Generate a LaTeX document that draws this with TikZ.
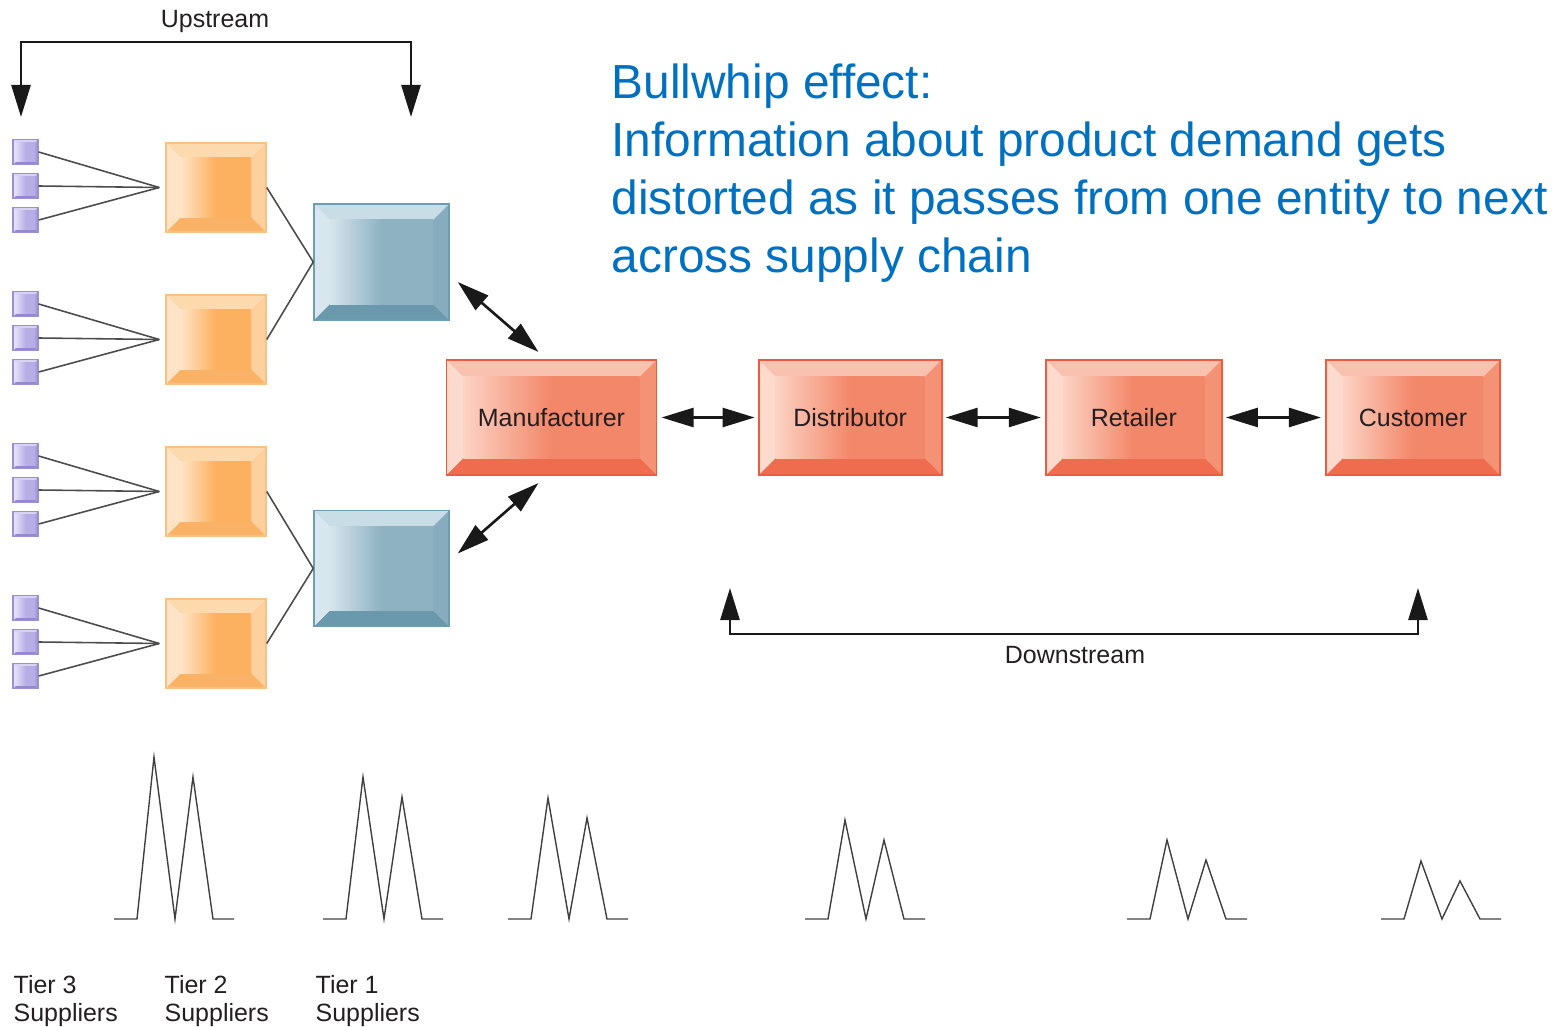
\documentclass[tikz,border=0pt]{standalone}
\usepackage{fontspec}
\setmainfont{Liberation Sans}
\usetikzlibrary{arrows.meta, calc, positioning}

% bevel palettes: T top, R right, B bottom, L left, I/J inner gradient, D border
\definecolor{orD}{HTML}{F9C283}
\definecolor{orT}{HTML}{FDD9AE}
\definecolor{orR}{HTML}{FDD09E}
\definecolor{orB}{HTML}{FAB366}
\definecolor{orL}{HTML}{FEE4C6}
\definecolor{orI}{HTML}{FEE3C4}
\definecolor{orJ}{HTML}{FBB15F}
\definecolor{blD}{HTML}{6E9CB0}
\definecolor{blT}{HTML}{C9DDE6}
\definecolor{blR}{HTML}{86ACBE}
\definecolor{blB}{HTML}{6A99AD}
\definecolor{blL}{HTML}{D8E7EE}
\definecolor{blI}{HTML}{D6E5EC}
\definecolor{blJ}{HTML}{8FB2C3}
\definecolor{rdD}{HTML}{F05B3D}
\definecolor{rdT}{HTML}{F9C1AF}
\definecolor{rdR}{HTML}{F49275}
\definecolor{rdB}{HTML}{EF6C4F}
\definecolor{rdL}{HTML}{FCDACE}
\definecolor{rdI}{HTML}{FCD3C5}
\definecolor{rdJ}{HTML}{F38769}
\definecolor{puD}{HTML}{9D8ED6}
\definecolor{puT}{HTML}{D8D2F5}
\definecolor{puR}{HTML}{A99ED9}
\definecolor{puB}{HTML}{9488CF}
\definecolor{puL}{HTML}{E4E0F9}
\definecolor{puI}{HTML}{E0DCF7}
\definecolor{puJ}{HTML}{B8AEE6}
\definecolor{noteblue}{HTML}{0070C0}
\definecolor{ink}{HTML}{231F20}

\tikzset{
  bevel/.style 2 args={path picture={
      \coordinate (pnw) at (path picture bounding box.north west);
      \coordinate (pne) at (path picture bounding box.north east);
      \coordinate (psw) at (path picture bounding box.south west);
      \coordinate (pse) at (path picture bounding box.south east);
      \fill[#1T] (pnw) -- (pne) -- ([shift={(-#2,-#2)}]pne) -- ([shift={(#2,-#2)}]pnw) -- cycle;
      \fill[#1R] (pne) -- (pse) -- ([shift={(-#2,#2)}]pse) -- ([shift={(-#2,-#2)}]pne) -- cycle;
      \fill[#1B] (pse) -- (psw) -- ([shift={(#2,#2)}]psw) -- ([shift={(-#2,#2)}]pse) -- cycle;
      \fill[#1L] (psw) -- (pnw) -- ([shift={(#2,-#2)}]pnw) -- ([shift={(#2,#2)}]psw) -- cycle;
      \shade[left color=#1I, right color=#1J, middle color=#1J]
        ([shift={(#2,-#2)}]pnw) rectangle ([shift={(-#2,#2)}]pse);
  }},
  lbl/.style={font=\fontsize{7.1}{8}\selectfont, text=ink},
  tierthree/.style={draw=puD, line width=0.4pt, minimum size=0.25cm, inner sep=0pt, bevel={pu}{0.03cm}},
  tiertwo/.style={draw=orD, line width=0.4pt, minimum width=1cm, minimum height=0.89cm, inner sep=0pt, bevel={or}{0.15cm}},
  tierone/.style={draw=blD, line width=0.4pt, minimum width=1.35cm, minimum height=1.16cm, inner sep=0pt, bevel={bl}{0.16cm}},
  chain/.style={lbl, draw=rdD, line width=0.5pt, minimum height=1.15cm, inner sep=0pt, outer sep=0pt, bevel={rd}{0.17cm}},
  link/.style={draw=black!70, line width=0.45pt},
  twoway/.style={{Triangle[length=0.32cm,width=0.19cm]}-{Triangle[length=0.32cm,width=0.19cm]}, draw=black!90, line width=0.75pt},
  peak/.style={draw=black!75, line width=0.4pt}
}

\begin{document}
\begin{tikzpicture}[x=0.01cm, y=-0.01cm]
  \useasboundingbox (0,0) rectangle (1565,1027);

  % suppliers
  \foreach \g in {1,...,4}{
    \node[tiertwo] (o\g) at (216,{35.5+152*\g}) {};
    \foreach \k in {1,2,3}
      \node[tierthree] (t\g\k) at (25.5,{152*\g+34*\k-34}) {};
  }
  \node[tierone] (b1) at (381.5,262) {};
  \node[tierone] (b2) at (381.5,568.5) {};

  \foreach \g in {1,...,4}
    \foreach \k in {1,2,3}
      \draw[link] (t\g\k.east) -- ([xshift=-0.06cm]o\g.west);
  \foreach \g/\b in {1/1,2/1,3/2,4/2}
    \draw[link] (o\g.east) -- (b\b.west);

  % chain
  \node[chain, minimum width=2.1cm] (mfr) at (551.5,417.5) {Manufacturer};
  \node[chain, minimum width=1.83cm, right=1.02cm of mfr] (dist) {Distributor};
  \node[chain, minimum width=1.76cm, right=1.04cm of dist] (ret) {Retailer};
  \node[chain, minimum width=1.74cm, right=1.04cm of ret] (cust) {Customer};

  \draw[twoway, shorten <=0.05cm, shorten >=0.04cm] (mfr) -- (dist);
  \draw[twoway, shorten <=0.04cm, shorten >=0.05cm] (dist) -- (ret);
  \draw[twoway, shorten <=0.04cm, shorten >=0.05cm] (ret) -- (cust);
  \draw[twoway] ($(b1.east)+(8,20)$) -- ($(mfr.north)+(-13,-8)$);
  \draw[twoway] ($(mfr.south)+(-13,8)$) -- ($(b2.east)+(8,-15)$);

  % up / down
  \node[lbl] (up) at (215,22) {Upstream};
  \coordinate (upL) at (21,117);
  \coordinate (upR) at (411,117);
  \draw[twoway] (upL) |- (216,42) -| (upR);

  \node[lbl] (down) at (1075,655) {Downstream};
  \coordinate (dnL) at (730,588);
  \coordinate (dnR) at (1418,588);
  \draw[twoway] (dnL) |- (1074,634) -| (dnR);

  \node[anchor=north west, align=left, inner sep=0pt, text=noteblue,
        font=\fontsize{13.6}{16.5}\selectfont] (note) at (611,63)
    {Bullwhip effect:\\Information about product demand gets\\distorted as it passes from one entity to next\\across supply chain};

  % demand swings
  \foreach \x/\h in {114/162, 323/142, 508/121, 805/99, 1127/79, 1381/58}
    \draw[peak] (\x,919) -- ++(23,0) -- (\x+40,919-\h) -- (\x+61,919)
      -- (\x+79,939-\h) -- (\x+99,919) -- (\x+120,919);

  \node[lbl, anchor=north west, align=left, inner sep=0pt] (tier3) at (13,975) {Tier 3\\Suppliers};
  \node[lbl, anchor=north west, align=left, inner sep=0pt] (tier2) at (164,975) {Tier 2\\Suppliers};
  \node[lbl, anchor=north west, align=left, inner sep=0pt] (tier1) at (315,975) {Tier 1\\Suppliers};
\end{tikzpicture}
\end{document}
